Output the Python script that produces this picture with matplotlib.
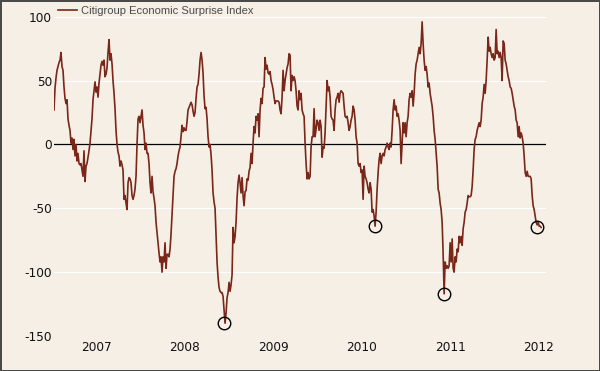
import matplotlib
matplotlib.use('Agg')
import matplotlib.pyplot as plt
import pandas as pd

# Citigroup Economic Surprise Index (consecutive chunks, evenly spaced)
cesi_2007 = [27, 44, 52, 58, 61, 64, 66, 72, 61, 58, 45, 36, 32, 35, 20, 15, 11, 1, 5, -4,
             4, -9, 0, -13, -7, -15, -16, -15, -20, -25, -5, -29, -17, -15, -10, -5, 1, 10, 20, 35,
             42, 49, 41, 45, 37, 48, 55, 62, 65, 62, 66, 53, 55, 60, 72, 82, 66, 71, 63, 50,
             40, 28, 11, 0, -6, -9, -17, -13, -16, -20, -43, -40, -46, -51, -30, -26, -27, -30, -40, -43,
             -40, -35]
cesi_2008 = [-25, 0, 20, 22, 17, 22, 27, 15, 9, -4, 1, -7, -7, -15, -30, -38, -25, -37, -42, -48,
             -61, -69, -77, -85, -92, -88, -100, -88, -92, -77, -97, -86, -86, -88, -82, -70, -55, -40, -25, -21,
             -19, -15, -9, -5, -2, 6, 15, 10, 13, 11, 11, 18, 27, 29, 31, 33, 31, 26, 22, 25,
             36, 45, 47, 55, 66, 72, 66, 56, 38, 28, 29, 20, 6, -2]
cesi_2009 = [0, -8, -20, -38, -45, -50, -72, -92, -104, -112, -115, -116, -116, -119, -130, -140, -132, -120, -116, -108,
             -115, -110, -102, -65, -77, -72, -61, -42, -30, -24, -30, -38, -26, -40, -48, -37, -36, -27, -28, -21,
             -18, -7, -15, 1, 14, 9, 22, 19, 24, 6, 27, 36, 32, 44, 45, 68, 59, 62, 56, 55,
             57, 50, 47, 43, 37, 32, 34, 34, 34, 33, 27, 24, 37, 58, 42, 50, 55, 60, 63, 71]
cesi_2010 = [70, 42, 54, 50, 53, 50, 42, 30, 27, 42, 35, 40, 27, 24, 22, 1, -15, -27, -22, -27,
             -25, -2, 6, 6, 28, 6, 12, 19, 17, 11, 19, 14, -10, -2, -3, 9, 30, 50, 42, 45,
             37, 22, 20, 19, 11, 27, 35, 37, 40, 33, 40, 42, 41, 40, 30, 22, 21, 22, 17, 11,
             14, 19, 22, 30, 27, 19, 6, 1, -15, -17, -15, -22, -20, -43, -17, -25, -27, -30, -35, -38]
cesi_2011 = [-30, -35, -53, -51, -56, -64, -53, -35, -22, -12, -7, -15, -9, -7, -9, -4, -2, 1, -2, -4,
             1, -2, 11, 27, 35, 27, 30, 22, 24, 19, 11, -15, 1, 17, 9, 17, 6, 17, 22, 35,
             40, 37, 42, 30, 40, 55, 63, 66, 71, 76, 71, 79, 96, 79, 66, 58, 61, 55, 45, 48,
             40, 35, 30, 22, 11, 4, -7, -17, -35, -38, -46, -51, -61, -85, -117, -92, -97, -95, -97, -95]
cesi_2012 = [-77, -92, -74, -97, -100, -88, -92, -82, -84, -72, -77, -72, -79, -66, -61, -53, -51, -46, -40, -41,
             -41, -40, -33, -20, -4, 4, 6, 11, 14, 17, 14, 19, 32, 37, 47, 40, 50, 66, 84, 73,
             76, 71, 68, 71, 66, 68, 90, 71, 73, 68, 72, 68, 50, 81, 79, 66, 63, 58, 53, 50,
             45, 44, 40, 35, 30, 27, 19, 17, 6, 14, 5, 9, 6, 1, -9, -22, -25, -21, -25, -25,
             -25, -27, -40, -48, -51, -56, -61, -63, -61, -64, -64, -65]

series_start = '2007-01-07'
series_end = '2012-07-11'

# circled lows
circle_dates = ['2008-12-09', '2010-08-25', '2011-06-04', '2012-06-22']
circle_values = [-140, -64, -117, -65]

year_labels = ['2007', '2008', '2009', '2010', '2011', '2012']
y_ticks = [-150, -100, -50, 0, 50, 100]

bg = '#f6efe6'
line_color = '#7a2618'

values = cesi_2007 + cesi_2008 + cesi_2009 + cesi_2010 + cesi_2011 + cesi_2012
dates = pd.date_range(series_start, series_end, periods=len(values))

fig = plt.figure(figsize=(6, 3.71), dpi=100, facecolor=bg, edgecolor='#4a4a4a', linewidth=2)
ax = fig.add_axes([0.09, 0.0943, 0.82, 0.8607])
ax.set_facecolor(bg)

# grid lines, zero line in black
for yv in y_ticks:
    if yv == 0:
        ax.axhline(yv, color='black', linewidth=0.9, zorder=2)
    else:
        ax.axhline(yv, color='white', linewidth=0.8, zorder=1)

ax.plot(dates, values, color=line_color, linewidth=1.2, zorder=3,
        label='Citigroup Economic Surprise Index')
ax.plot(pd.to_datetime(circle_dates), circle_values, linestyle='none', marker='o',
        markersize=9, markerfacecolor='none', markeredgecolor='black',
        markeredgewidth=1.0, zorder=4, clip_on=False)

ax.set_xlim(pd.Timestamp('2007-01-07'), pd.Timestamp('2012-07-31'))
ax.set_ylim(-150, 100)

tick_dates = [pd.Timestamp(y + '-07-01') for y in year_labels]
ax.set_xticks(tick_dates)
ax.set_xticklabels(year_labels)
ax.set_yticks(y_ticks)
ax.set_yticklabels([str(v) for v in y_ticks])
ax.tick_params(axis='both', length=0, labelsize=8.7, colors='#111111')
ax.tick_params(axis='x', pad=3.5)
ax.tick_params(axis='y', pad=1.5)
for s in ax.spines.values():
    s.set_visible(False)

leg = ax.legend(loc='center left', bbox_to_anchor=(0.0967, 0.971), bbox_transform=fig.transFigure,
                frameon=False, handlelength=1.7, handletextpad=0.4, borderpad=0, borderaxespad=0,
                prop={'family': 'Liberation Sans', 'size': 8})
for t in leg.get_texts():
    t.set_color('#4a4a4a')

fig.savefig('out.png', dpi=100, facecolor=bg, edgecolor=fig.get_edgecolor())
